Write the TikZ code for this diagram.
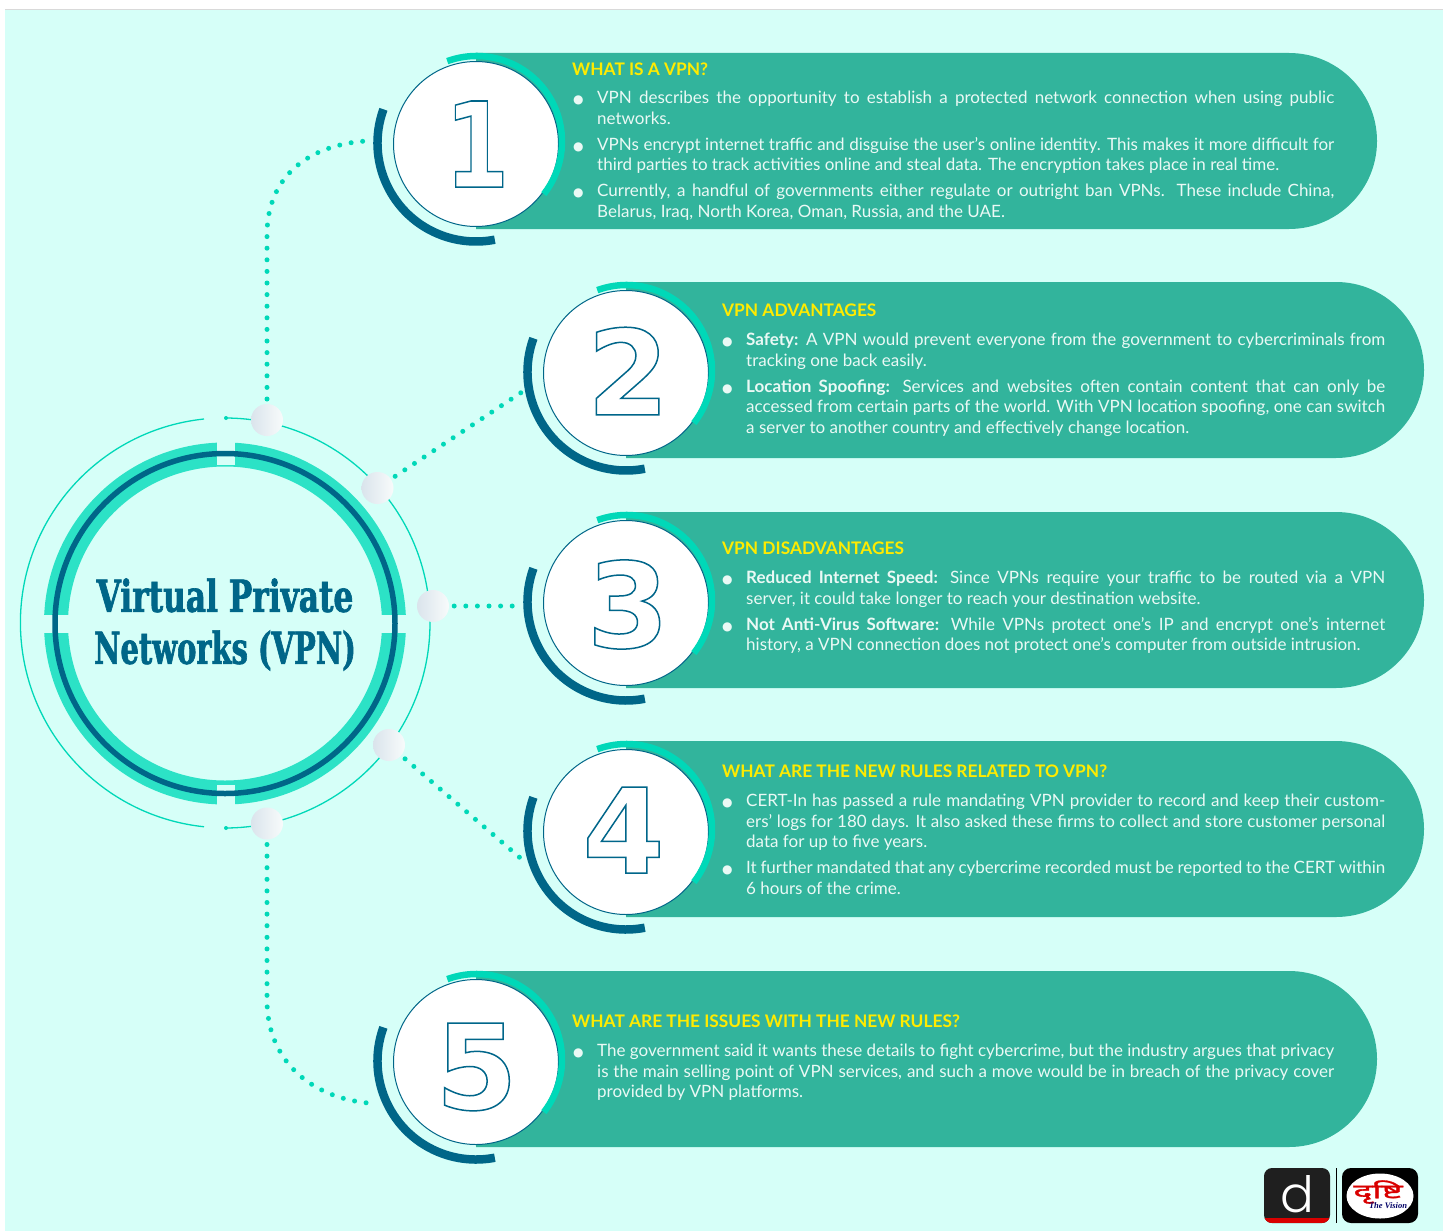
\documentclass[tikz,border=0pt]{standalone}
\usepackage{fontspec}
\usepackage{graphicx}
\setmainfont{Lato}
\newfontfamily\hubfont[FakeStretch=0.71,FakeBold=1.5]{DejaVu Serif}
\newfontfamily\digitfont{DejaVu Sans}
\newfontfamily\symfont{DejaVu Sans}
\newfontfamily\hindifont[Script=Devanagari,FakeStretch=1.8,FakeBold=1.5]{Noto Sans}
\newfontfamily\logofont{Poppins Light}
\newfontfamily\visionfont{Liberation Serif}
\usetikzlibrary{calc}
\definecolor{mint}{HTML}{D6FFF8}
\definecolor{panelc}{HTML}{32B49C}
\definecolor{aqua}{HTML}{00D8B8}
\definecolor{ringc}{HTML}{2CE2C6}
\definecolor{deep}{HTML}{006688}
\definecolor{hdr}{HTML}{FFEB00}
\definecolor{bodyc}{HTML}{EAF9F5}
\definecolor{bubL}{HTML}{DAE4EC}
\definecolor{bubR}{HTML}{F8FBFB}
\newlength\lw
\newcommand{\jl}[1]{\makebox[\lw][s]{#1}}
\newcommand{\bul}{\leavevmode\llap{\symfont\fontsize{12}{12}\selectfont ●\hspace{13.5pt}}}
\newcommand{\bodyset}{\fontsize{17}{20.5}\selectfont\color{bodyc}\lineskiplimit=-20pt\relax}
\newcommand{\numtext}[1]{\digitfont\bfseries\fontsize{118}{118}\selectfont\color{white}\special{pdf:code 2 Tr 1.5 w 0 0.4 0.54 RG}#1\special{pdf:code 0 Tr 1 w}}
\tikzset{
  x=1pt,y=-1pt,
  panelshape/.style={fill=panelc,draw=none},
  disc/.style={circle,fill=white,draw=deep,line width=1pt,minimum size=165pt,inner sep=0pt},
  bubble/.style={circle,minimum size=32pt,inner sep=0pt,left color=bubL,right color=bubR,draw=none},
  dots/.style={aqua,line width=5pt,line cap=round,dash pattern=on 0pt off 11.6pt,shorten <=5pt},
  headtext/.style={anchor=base west,inner sep=0pt,text=hdr,font=\fontsize{17.3}{20}\selectfont\bfseries},
  bodytext/.style={anchor=base west,inner sep=0pt},
  thin ring/.style={aqua,line width=1.3pt},
  numtxt/.style={inner sep=0pt,anchor=center},
}
% #1 name, #2 cx, #3 cy, #4 panel right, #5 digit, #6 digit dx, #7 digit dy
\newcommand{\badge}[7]{%
  \fill[panelc] (#2,#3-90) -- (#4-88,#3-90) arc[start angle=90,end angle=-90,x radius=88,y radius=-88] -- (#2,#3+86) -- cycle;
  \node[disc] (#1) at (#2,#3+1) {};
  \draw[aqua,line width=6.5pt] ($(#2+0.5,#3-1.5)+(110:85.5 and -85.5)$) arc[start angle=110,end angle=-38,x radius=85.5,y radius=-85.5];
  \draw[deep,line width=8.5pt] ($(#2,#3)+(160:98.5 and -98.5)$) arc[start angle=160,end angle=281,x radius=98.5,y radius=-98.5];
  \node[numtxt] (#1num) at (#2+#6,#3+#7) {#5};
}
\begin{document}
\begin{tikzpicture}
\useasboundingbox (0,0) rectangle (1450,1231);
\fill[white] (0,0) rectangle (1450,1231);
\fill[mint] (5,9) rectangle (1443,1231);
\draw[black!15,line width=0.8pt] (5,9) -- (1443,9);

% hub rings
\draw[ringc,line width=24pt] (225,623.5) circle[radius=169];
\fill[mint] (216.5,430) rectangle (234.5,465);
\fill[mint] (216.5,785) rectangle (234.5,815);
\fill[mint] (35,615) rectangle (75,633);
\fill[mint] (375,615) rectangle (415,633);
\draw[deep,line width=5.5pt] (225,623.5) circle[radius=170];
\draw[thin ring] (225,418) arc[start angle=90,end angle=-90,x radius=205,y radius=-205];
\draw[thin ring] (204,419) arc[start angle=96,end angle=264,x radius=205,y radius=-205];
\fill[aqua] (226,418) circle[radius=2];
\fill[aqua] (226,828) circle[radius=2];
\node[inner sep=0pt,text=deep,align=center,font=\hubfont\bfseries\fontsize{44}{52}\selectfont] (hub) at (225,624.5) {Virtual Private\\\scalebox{0.925}[1]{Networks (VPN)}};

% badges
\badge{a}{476}{143}{1377}{\scalebox{0.78}[1]{\numtext{1}}}{1}{1}
\badge{b}{626}{372}{1424}{\numtext{2}}{2}{-1}
\badge{c}{626}{602}{1424}{\numtext{3}}{2}{2.5}
\badge{d}{626}{831}{1424}{\numtext{4}}{-2.5}{-1}
\badge{e}{476}{1061}{1377}{\numtext{5}}{0.5}{6}

% bubbles
\node[bubble] (b1) at (267,420) {};
\node[bubble] (b2) at (377.5,488) {};
\node[bubble] (b3) at (433,606) {};
\node[bubble] (b4) at (389,745) {};
\node[bubble] (b5) at (267,823.5) {};

% connectors
\coordinate (v1) at (267,235);
\coordinate (e1) at (366,141);
\coordinate (e2) at (525,390);
\coordinate (e3) at (517,606);
\coordinate (e4) at (525,862);
\coordinate (v5) at (267,1000);
\coordinate (e5) at (368,1103);
\draw[dots] (b1) ++(0,-16) -- (v1) .. controls (267,175) and (310,145) .. (e1);
\draw[dots] (b2) -- (e2) ;
\draw[dots] (b3.east) -- (e3);
\draw[dots] (b4) -- (e4);
\draw[dots] (b5) ++(0,16) -- (v5) .. controls (267,1060) and (310,1097) .. (e5);

% panel 1
\node[headtext] (h1) at (572,75) {WHAT IS A VPN?};
\setlength\lw{737pt}
\node[bodytext] (t1) at (597,91) {\parbox[t]{737pt}{\bodyset
\bul\jl{VPN describes the opportunity to establish a protected network connection when using public}\\
networks.\\[5.5pt]
\bul\jl{VPNs encrypt internet traffic and disguise the user’s online identity. This makes it more difficult for}\\
third parties to track activities online and steal data. The encryption takes place in real time.\\[5.5pt]
\bul\jl{Currently, a handful of governments either regulate or outright ban VPNs. These include China,}\\
Belarus, Iraq, North Korea, Oman, Russia, and the UAE.}};

% panel 2
\node[headtext] (h2) at (722,316) {VPN ADVANTAGES};
\setlength\lw{639pt}
\node[bodytext] (t2) at (746,333) {\parbox[t]{639pt}{\bodyset
\bul\jl{\textbf{Safety:} A VPN would prevent everyone from the government to cybercriminals from}\\
tracking one back easily.\\[5.5pt]
\bul\jl{\textbf{Location Spoofing:} Services and websites often contain content that can only be}\\
\jl{accessed from certain parts of the world. With VPN location spoofing, one can switch}\\
a server to another country and effectively change location.}};

% panel 3
\node[headtext] (h3) at (722,554) {VPN DISADVANTAGES};
\node[bodytext] (t3) at (746,571) {\parbox[t]{639pt}{\bodyset
\bul\jl{\textbf{Reduced Internet Speed:} Since VPNs require your traffic to be routed via a VPN}\\
server, it could take longer to reach your destination website.\\[5.5pt]
\bul\jl{\textbf{Not Anti-Virus Software:} While VPNs protect one’s IP and encrypt one’s internet}\\
history, a VPN connection does not protect one’s computer from outside intrusion.}};

% panel 4
\node[headtext] (h4) at (722,777) {WHAT ARE THE NEW RULES RELATED TO VPN?};
\node[bodytext] (t4) at (746,794) {\parbox[t]{639pt}{\bodyset
\bul\jl{CERT-In has passed a rule mandating VPN provider to record and keep their custom-}\\
\jl{ers’ logs for 180 days. It also asked these firms to collect and store customer personal}\\
data for up to five years.\\[5.5pt]
\bul\jl{It further mandated that any cybercrime recorded must be reported to the CERT within}\\
6 hours of the crime.}};

% panel 5
\node[headtext] (h5) at (572,1027) {WHAT ARE THE ISSUES WITH THE NEW RULES?};
\setlength\lw{737pt}
\node[bodytext] (t5) at (597,1044) {\parbox[t]{737pt}{\bodyset
\bul\jl{The government said it wants these details to fight cybercrime, but the industry argues that privacy}\\
\jl{is the main selling point of VPN services, and such a move would be in breach of the privacy cover}\\
provided by VPN platforms.}};

% logos
\fill[black!88,rounded corners=8pt] (1264,1168) rectangle (1330,1223);
\begin{scope}
\clip[rounded corners=8pt] (1264,1168) rectangle (1330,1223);
\fill[red!85!black] (1264,1217.5) rectangle (1330,1223);
\end{scope}
\node[inner sep=0pt,text=white] (dlogo) at (1297,1194) {\logofont\fontsize{50}{50}\selectfont d};
\draw[black,line width=1pt] (1336,1168) -- (1336,1223);
\fill[black,rounded corners=9pt] (1342,1168) rectangle (1418,1223);
\fill[white] (1380,1196) ellipse[x radius=33.5,y radius=22.5];
\node[inner sep=0pt,text=red!85!black] (vlogo) at (1378,1192) {\hindifont\fontsize{20}{20}\selectfont दृष्टि};
\node[inner sep=0pt,text=blue!40!black] (vname) at (1388,1206) {\visionfont\bfseries\itshape\fontsize{8.5}{8.5}\selectfont The Vision};
\end{tikzpicture}
\end{document}
